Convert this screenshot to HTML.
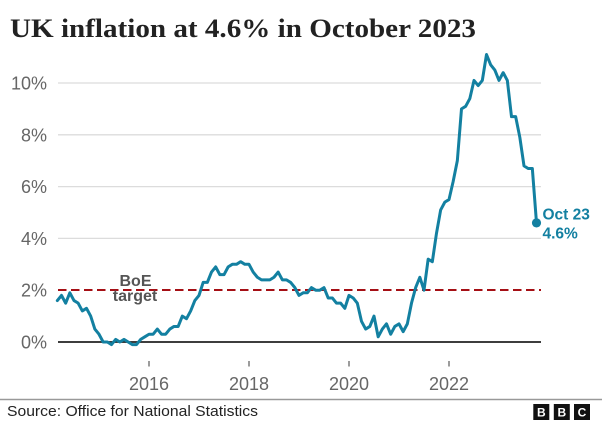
<!DOCTYPE html>
<html>
<head>
<meta charset="utf-8">
<style>
  html, body { margin: 0; padding: 0; background: #fff; }
  svg { display: block; }
</style>
</head>
<body>
<svg width="602" height="423" viewBox="0 0 602 423" xmlns="http://www.w3.org/2000/svg">
  <rect x="0" y="0" width="602" height="423" fill="#fff"/>
  <!-- Title -->
  <text x="10" y="37" font-family="Liberation Serif, serif" font-weight="bold" font-size="26" fill="#222" textLength="466" lengthAdjust="spacingAndGlyphs">UK inflation at 4.6% in October 2023</text>

  <!-- Gridlines -->
  <g stroke="#dcdcdc" stroke-width="1.3">
    <line x1="58" y1="83" x2="541" y2="83"/>
    <line x1="58" y1="134.8" x2="541" y2="134.8"/>
    <line x1="58" y1="186.6" x2="541" y2="186.6"/>
    <line x1="58" y1="238.4" x2="541" y2="238.4"/>
  </g>

  <!-- Y labels -->
  <g font-family="Liberation Sans, sans-serif" font-size="18" fill="#666" text-anchor="end">
    <text x="47" y="89.5">10%</text>
    <text x="47" y="141.3">8%</text>
    <text x="47" y="193.1">6%</text>
    <text x="47" y="244.9">4%</text>
    <text x="47" y="296.7">2%</text>
    <text x="47" y="348.5">0%</text>
  </g>

  <!-- BoE target line -->
  <line x1="58" y1="290" x2="541" y2="290" stroke="#a50f15" stroke-width="2" stroke-dasharray="8.5 4.5"/>
  <g font-family="Liberation Sans, sans-serif" font-weight="bold" font-size="16" fill="#555" text-anchor="middle">
    <text x="135.5" y="286">BoE</text>
    <text x="135" y="301">target</text>
  </g>

  <!-- Zero baseline -->
  <line x1="58" y1="342" x2="541" y2="342" stroke="#222" stroke-width="1.8"/>

  <!-- X ticks -->
  <g stroke="#666" stroke-width="1.3">
    <line x1="149" y1="361" x2="149" y2="366.5"/>
    <line x1="249" y1="361" x2="249" y2="366.5"/>
    <line x1="349" y1="361" x2="349" y2="366.5"/>
    <line x1="449" y1="361" x2="449" y2="366.5"/>
  </g>
  <g font-family="Liberation Sans, sans-serif" font-size="18" fill="#666" text-anchor="middle">
    <text x="149" y="390">2016</text>
    <text x="249" y="390">2018</text>
    <text x="349" y="390">2020</text>
    <text x="449" y="390">2022</text>
  </g>

  <!-- Data line -->
  <g transform="translate(57.333,342) scale(4.16667,-25.9)">
    <polyline fill="none" stroke="#1380a1" stroke-width="3" stroke-linejoin="round" stroke-linecap="round" vector-effect="non-scaling-stroke"
      points="0,1.6 1,1.8 2,1.5 3,1.9 4,1.6 5,1.5 6,1.2 7,1.3 8,1.0 9,0.5
      10,0.3 11,0.0 12,0.0 13,-0.1 14,0.1 15,0.0 16,0.1 17,0.0 18,-0.1 19,-0.1 20,0.1 21,0.2
      22,0.3 23,0.3 24,0.5 25,0.3 26,0.3 27,0.5 28,0.6 29,0.6 30,1.0 31,0.9 32,1.2 33,1.6
      34,1.8 35,2.3 36,2.3 37,2.7 38,2.9 39,2.6 40,2.6 41,2.9 42,3.0 43,3.0 44,3.1 45,3.0
      46,3.0 47,2.7 48,2.5 49,2.4 50,2.4 51,2.4 52,2.5 53,2.7 54,2.4 55,2.4 56,2.3 57,2.1
      58,1.8 59,1.9 60,1.9 61,2.1 62,2.0 63,2.0 64,2.1 65,1.7 66,1.7 67,1.5 68,1.5 69,1.3
      70,1.8 71,1.7 72,1.5 73,0.8 74,0.5 75,0.6 76,1.0 77,0.2 78,0.5 79,0.7 80,0.3 81,0.6
      82,0.7 83,0.4 84,0.7 85,1.5 86,2.1 87,2.5 88,2.0 89,3.2 90,3.1 91,4.2 92,5.1 93,5.4
      94,5.5 95,6.2 96,7.0 97,9.0 98,9.1 99,9.4 100,10.1 101,9.9 102,10.1 103,11.1 104,10.7 105,10.5
      106,10.1 107,10.4 108,10.1 109,8.7 110,8.7 111,7.9 112,6.8 113,6.7 114,6.7 115,4.6"/>
  </g>
  <circle cx="536.5" cy="222.9" r="4.6" fill="#1380a1"/>
  <g font-family="Liberation Sans, sans-serif" font-weight="bold" font-size="15.5" fill="#1380a1">
    <text x="542.5" y="219.5">Oct 23</text>
    <text x="542.5" y="238.5">4.6%</text>
  </g>

  <!-- Footer -->
  <line x1="0" y1="399.5" x2="602" y2="399.5" stroke="#999" stroke-width="1.5"/>
  <text x="7" y="416" font-family="Liberation Sans, sans-serif" font-size="15" fill="#222" textLength="251" lengthAdjust="spacingAndGlyphs">Source: Office for National Statistics</text>
  <g>
    <rect x="533.3" y="404" width="16" height="16" fill="#111"/>
    <rect x="553.8" y="404" width="16" height="16" fill="#111"/>
    <rect x="574" y="404" width="16" height="16" fill="#111"/>
    <g font-family="Liberation Sans, sans-serif" font-weight="bold" font-size="12" fill="#fff" text-anchor="middle">
      <text x="541.3" y="416.3">B</text>
      <text x="561.8" y="416.3">B</text>
      <text x="582" y="416.3">C</text>
    </g>
  </g>
</svg>
</body>
</html>
